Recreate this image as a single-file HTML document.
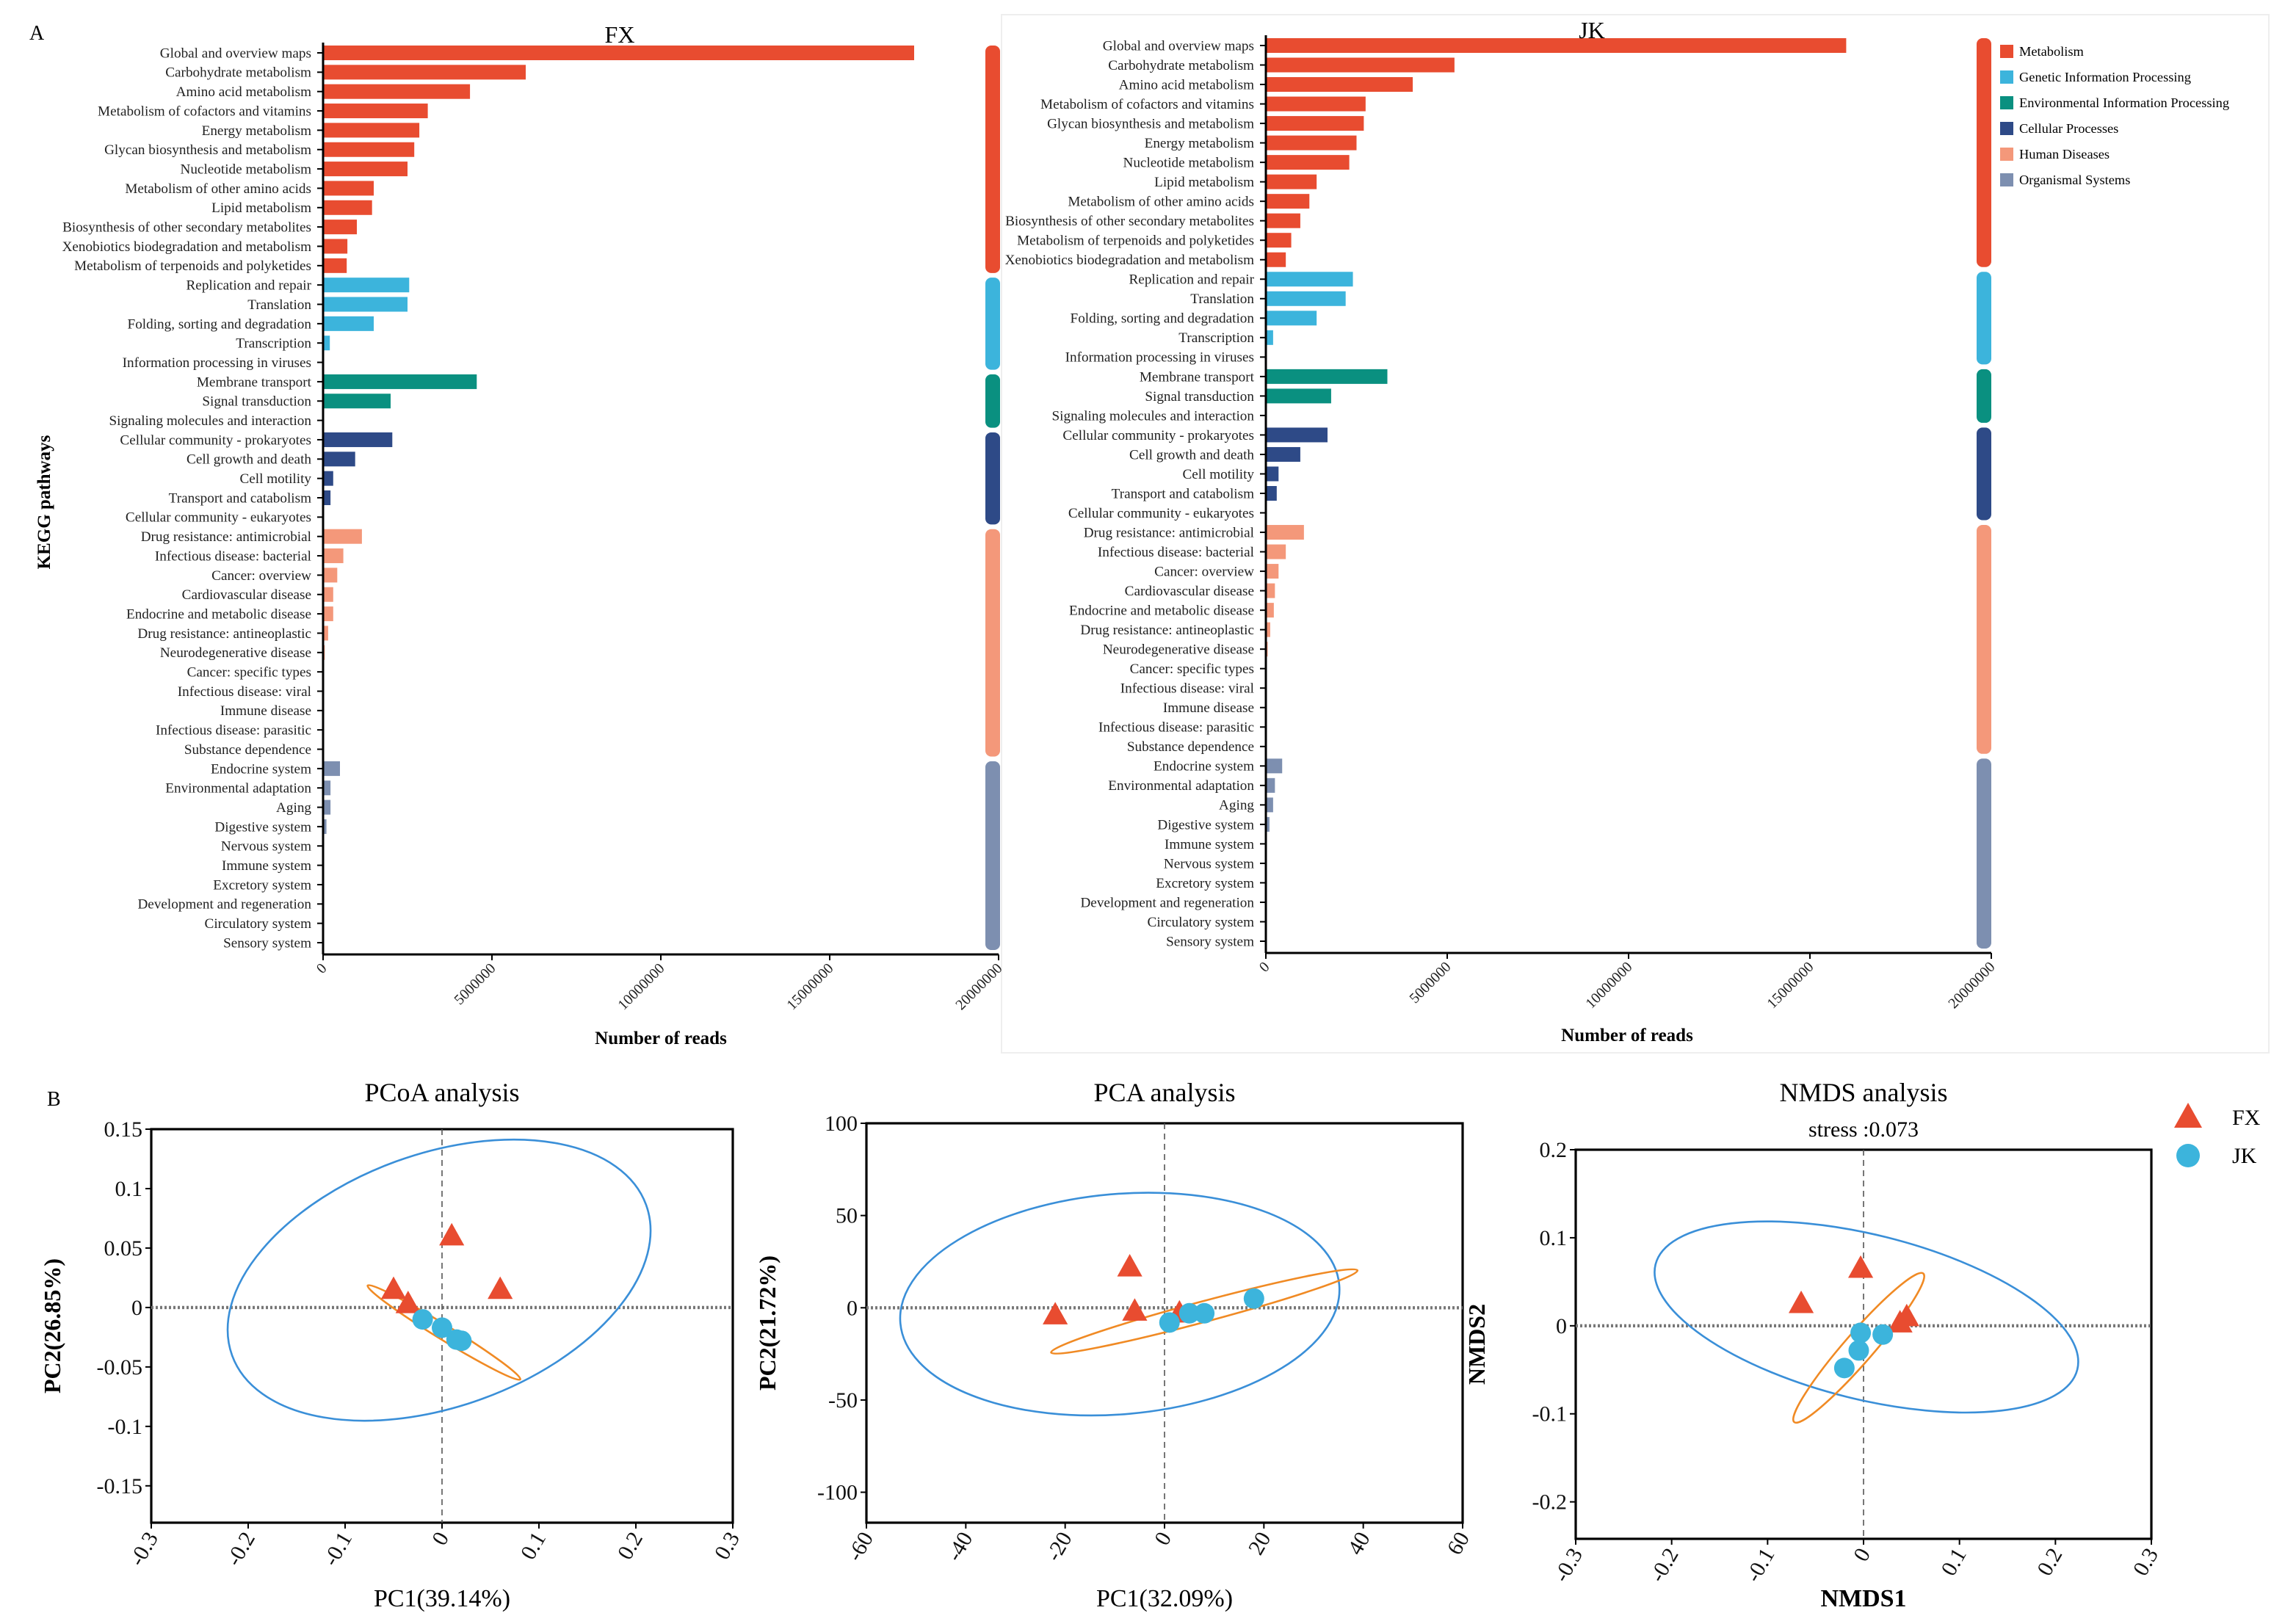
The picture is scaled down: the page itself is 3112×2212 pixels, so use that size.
<!DOCTYPE html>
<html><head><meta charset="utf-8"><style>
html,body{margin:0;padding:0;background:#fff}
svg{display:block}
text{font-family:"Liberation Serif",serif}
</style></head><body>
<svg id="fig" width="3112" height="2212" viewBox="0 0 1556 1106" xmlns="http://www.w3.org/2000/svg">
<rect x="0" y="0" width="1556" height="1106" fill="#fff"/>
<rect x="682" y="10" width="863" height="707" fill="none" stroke="#eeeeee" stroke-width="1"/>
<g id="root"></g>
</svg>
<script>
// ---------- Data: KEGG bars ----------
const fxLabels = ["Global and overview maps","Carbohydrate metabolism","Amino acid metabolism","Metabolism of cofactors and vitamins","Energy metabolism","Glycan biosynthesis and metabolism","Nucleotide metabolism","Metabolism of other amino acids","Lipid metabolism","Biosynthesis of other secondary metabolites","Xenobiotics biodegradation and metabolism","Metabolism of terpenoids and polyketides","Replication and repair","Translation","Folding, sorting and degradation","Transcription","Information processing in viruses","Membrane transport","Signal transduction","Signaling molecules and interaction","Cellular community - prokaryotes","Cell growth and death","Cell motility","Transport and catabolism","Cellular community - eukaryotes","Drug resistance: antimicrobial","Infectious disease: bacterial","Cancer: overview","Cardiovascular disease","Endocrine and metabolic disease","Drug resistance: antineoplastic","Neurodegenerative disease","Cancer: specific types","Infectious disease: viral","Immune disease","Infectious disease: parasitic","Substance dependence","Endocrine system","Environmental adaptation","Aging","Digestive system","Nervous system","Immune system","Excretory system","Development and regeneration","Circulatory system","Sensory system"];
const fxValues = [17500000,6000000,4350000,3100000,2850000,2700000,2500000,1500000,1450000,1000000,720000,700000,2550000,2500000,1500000,200000,20000,4550000,2000000,20000,2050000,950000,300000,220000,20000,1150000,600000,420000,300000,300000,150000,50000,15000,10000,10000,10000,10000,500000,220000,220000,100000,30000,10000,10000,10000,10000,10000];
const fxGroups = [0,0,0,0,0,0,0,0,0,0,0,0,1,1,1,1,1,2,2,2,3,3,3,3,3,4,4,4,4,4,4,4,4,4,4,4,4,5,5,5,5,5,5,5,5,5,5];
const jkLabels = ["Global and overview maps","Carbohydrate metabolism","Amino acid metabolism","Metabolism of cofactors and vitamins","Glycan biosynthesis and metabolism","Energy metabolism","Nucleotide metabolism","Lipid metabolism","Metabolism of other amino acids","Biosynthesis of other secondary metabolites","Metabolism of terpenoids and polyketides","Xenobiotics biodegradation and metabolism","Replication and repair","Translation","Folding, sorting and degradation","Transcription","Information processing in viruses","Membrane transport","Signal transduction","Signaling molecules and interaction","Cellular community - prokaryotes","Cell growth and death","Cell motility","Transport and catabolism","Cellular community - eukaryotes","Drug resistance: antimicrobial","Infectious disease: bacterial","Cancer: overview","Cardiovascular disease","Endocrine and metabolic disease","Drug resistance: antineoplastic","Neurodegenerative disease","Cancer: specific types","Infectious disease: viral","Immune disease","Infectious disease: parasitic","Substance dependence","Endocrine system","Environmental adaptation","Aging","Digestive system","Immune system","Nervous system","Excretory system","Development and regeneration","Circulatory system","Sensory system"];
const jkValues = [16000000,5200000,4050000,2750000,2700000,2500000,2300000,1400000,1200000,950000,700000,550000,2400000,2200000,1400000,200000,20000,3350000,1800000,20000,1700000,950000,350000,300000,20000,1050000,550000,350000,250000,220000,120000,50000,10000,10000,10000,10000,10000,450000,250000,200000,100000,30000,10000,10000,10000,10000,10000];
const jkGroups = fxGroups;
const groupNames = ["Metabolism","Genetic Information Processing","Environmental Information Processing","Cellular Processes","Human Diseases","Organismal Systems"];
const groupColors = ["#e84c30","#3cb4dc","#0a9080","#2e4a87","#f4987a","#7d8fb0"];
const barTicks = [0,5000000,10000000,15000000,20000000];

// ---------- Data: ordination ----------
const pcoaFX = [[0.01,0.06],[-0.05,0.015],[-0.035,0.003],[0.06,0.015]];
const pcoaJK = [[-0.02,-0.01],[0,-0.017],[0.015,-0.027],[0.02,-0.028]];
const pcaFX = [[-7,22],[-22,-4],[-6,-2],[3,-3]];
const pcaJK = [[1,-8],[5,-3],[8,-3],[18,5]];
const nmdsFX = [[-0.065,0.025],[-0.003,0.065],[0.045,0.01],[0.038,0.003]];
const nmdsJK = [[-0.003,-0.008],[0.02,-0.01],[-0.005,-0.028],[-0.02,-0.048]];
const pcoaXTicks = [-0.3,-0.2,-0.1,0,0.1,0.2,0.3];
const pcoaYTicks = [0.15,0.1,0.05,0,-0.05,-0.1,-0.15];
const pcaXTicks = [-60,-40,-20,0,20,40,60];
const pcaYTicks = [100,50,0,-50,-100];
const nmdsXTicks = [-0.3,-0.2,-0.1,0,0.1,0.2,0.3];
const nmdsYTicks = [0.2,0.1,0,-0.1,-0.2];

const NS="http://www.w3.org/2000/svg";
const root=document.getElementById('root');
function mk(tag,attrs,parent,txt){const e=document.createElementNS(NS,tag);for(const k in attrs)e.setAttribute(k,attrs[k]);if(txt!==undefined)e.textContent=txt;(parent||root).appendChild(e);return e;}

function barChart(o){
  const g=mk('g',{});
  
  
  const n=o.labels.length;
  const yPos=i=>o.y0+i*(o.y1-o.y0)/(n-1);
  const xPos=v=>o.x0+v/20000000*(o.x1-o.x0);
  const axB=o.y1+8;
  for(let i=0;i<n;i++){
    const y=yPos(i);
    const r=mk('rect',{x:o.x0,y:y-5,width:Math.max(0,xPos(o.values[i])-o.x0),height:10,fill:groupColors[o.groups[i]]},g);
    
    
    const t=mk('text',{x:o.x0-8,y:y+3.2,'text-anchor':'end','font-size':9.6,fill:'#222'},g,o.labels[i]);
    
    
    mk('line',{x1:o.x0-4,x2:o.x0,y1:y,y2:y,stroke:'#000','stroke-width':1},g);
  }
  mk('line',{x1:o.x0,x2:o.x0,y1:o.y0-7,y2:axB,stroke:'#000','stroke-width':1.5},g);
  mk('line',{x1:o.x0,x2:o.x1,y1:axB,y2:axB,stroke:'#000','stroke-width':1.5},g);
  barTicks.forEach(v=>{
    const x=xPos(v);
    mk('line',{x1:x,x2:x,y1:axB,y2:axB+4,stroke:'#000','stroke-width':1},g);
    const t=mk('text',{x:x+3,y:axB+10,'text-anchor':'end','font-size':10,transform:`rotate(-45 ${x+3} ${axB+10})`,fill:'#222'},g,String(v));
    
    
  });
  let start=0;
  for(let i=1;i<=n;i++){
    if(i===n||o.groups[i]!==o.groups[start]){
      const ya=yPos(start)-5, yb=yPos(i-1)+5;
      const r=mk('rect',{x:o.gx,y:ya,width:10,height:yb-ya,rx:4,fill:groupColors[o.groups[start]]},g);
      
      
      start=i;
    }
  }
}
barChart({name:'fx-bar-chart',labels:fxLabels,values:fxValues,groups:fxGroups,x0:220,x1:680,y0:36,y1:642,gx:671});
barChart({name:'jk-bar-chart',labels:jkLabels,values:jkValues,groups:jkGroups,x0:862,x1:1356,y0:31,y1:641,gx:1346});

function txt(x,y,s,attrs,name){const t=mk('text',Object.assign({x:x,y:y},attrs),root,s);return t;}
txt(20,27,'A',{'font-size':14},'panel-label-a');
txt(32,753,'B',{'font-size':14},'panel-label-b');
txt(422,29,'FX',{'font-size':16,'text-anchor':'middle'},'fx-title');
txt(1084,26,'JK',{'font-size':16,'text-anchor':'middle'},'jk-title');
txt(34,342,'KEGG pathways',{'font-size':12.5,'font-weight':'bold','text-anchor':'middle',transform:'rotate(-90 34 342)'},'y-axis-title');
txt(450,711,'Number of reads',{'font-size':12.5,'font-weight':'bold','text-anchor':'middle'},'fx-x-axis-title');
txt(1108,709,'Number of reads',{'font-size':12.5,'font-weight':'bold','text-anchor':'middle'},'jk-x-axis-title');
groupNames.forEach((nm,i)=>{
  const y=35+i*17.5;
  const r=mk('rect',{x:1362,y:y-4.5,width:9,height:9,fill:groupColors[i]});
  
  
  txt(1375,y+3,nm,{'font-size':9.2},'legend-entry');
});

// ---------- ordination plots ----------
function triPath(x,y,s){return `M${x},${y-s} L${x+s*0.95},${y+s*0.7} L${x-s*0.95},${y+s*0.7} Z`;}
function ordPlot(o){
  const g=mk('g',{});
  
  
  const X=v=>o.l+(v-o.xmin)/(o.xmax-o.xmin)*(o.r-o.l);
  const Y=v=>o.t+(o.ymax-v)/(o.ymax-o.ymin)*(o.b-o.t);
  mk('rect',{x:o.l,y:o.t,width:o.r-o.l,height:o.b-o.t,fill:'none',stroke:'#000','stroke-width':1.6},g);
  mk('line',{x1:o.l,x2:o.r,y1:Y(0),y2:Y(0),stroke:'#777','stroke-width':2.2,'stroke-dasharray':'1.5 1.5'},g);
  mk('line',{x1:X(0),x2:X(0),y1:o.t,y2:o.b,stroke:'#555','stroke-width':0.8,'stroke-dasharray':'4 3'},g);
  o.yt.forEach(v=>{const y=Y(v);mk('line',{x1:o.l-4,x2:o.l,y1:y,y2:y,stroke:'#000'},g);
    const t=mk('text',{x:o.l-6,y:y+5,'text-anchor':'end','font-size':15,fill:'#111'},g,String(v));});
  o.xt.forEach(v=>{const x=X(v);mk('line',{x1:x,x2:x,y1:o.b,y2:o.b+4,stroke:'#000'},g);
    const t=mk('text',{x:x+5,y:o.b+10,'text-anchor':'end','font-size':15,fill:'#111',transform:`rotate(-60 ${x+5} ${o.b+10})`},g,String(v));});
  const e1=mk('ellipse',{cx:0,cy:0,rx:o.be[2],ry:o.be[3],fill:'none',stroke:'#3a8fd8','stroke-width':1.3,transform:`translate(${X(o.be[0])} ${Y(o.be[1])}) rotate(${o.be[4]})`},g);
  
  const e2=mk('ellipse',{cx:0,cy:0,rx:o.oe[2],ry:o.oe[3],fill:'none',stroke:'#f08a24','stroke-width':1.3,transform:`translate(${X(o.oe[0])} ${Y(o.oe[1])}) rotate(${o.oe[4]})`},g);
  
  o.fx.forEach(p=>{const m=mk('path',{d:triPath(X(p[0]),Y(p[1]),9),fill:'#e84c30'},g);});
  o.jk.forEach(p=>{const m=mk('circle',{cx:X(p[0]),cy:Y(p[1]),r:7,fill:'#3cb4dc'},g);});
  txt((o.l+o.r)/2,o.titleY,o.title,{'font-size':18,'text-anchor':'middle'},'plot-title');
  txt((o.l+o.r)/2,1094,o.xl,{'font-size':17,'text-anchor':'middle','font-family':o.bold?'Liberation Sans':'Liberation Serif','font-weight':o.bold?'bold':'normal'},'x-axis-title');
  const yx=o.l-62, yy=(o.t+o.b)/2;
  txt(yx,yy,o.yl,{'font-size':16,'text-anchor':'middle','font-weight':'bold','font-family':'Liberation Sans',transform:`rotate(-90 ${yx} ${yy})`},'y-axis-title');
}
ordPlot({name:'pcoa-plot',l:103,r:499,t:769,b:1037,xmin:-0.3,xmax:0.3,ymin:-0.181,ymax:0.15,xt:pcoaXTicks,yt:pcoaYTicks,fx:pcoaFX,jk:pcoaJK,
  be:[-0.003,0.023,150,86,-20],oe:[0.002,-0.021,61,5,31.6],title:'PCoA analysis',titleY:750,xl:'PC1(39.14%)',yl:'PC2(26.85%)'});
ordPlot({name:'pca-plot',l:590,r:996,t:765,b:1037,xmin:-60,xmax:60,ymin:-116.5,ymax:100,xt:pcaXTicks,yt:pcaYTicks,fx:pcaFX,jk:pcaJK,
  be:[-9,2,150,75,-5],oe:[8,-2,108,7,-15],title:'PCA analysis',titleY:750,xl:'PC1(32.09%)',yl:'PC2(21.72%)'});
ordPlot({name:'nmds-plot',l:1073,r:1465,t:783,b:1048,xmin:-0.3,xmax:0.3,ymin:-0.242,ymax:0.2,xt:nmdsXTicks,yt:nmdsYTicks,fx:nmdsFX,jk:nmdsJK,
  be:[0.003,0.01,148,56,14],oe:[-0.005,-0.025,67,10,-49],title:'NMDS analysis',titleY:750,xl:'NMDS1',yl:'NMDS2',bold:true});
txt(1269,774,'stress :0.073',{'font-size':15,'text-anchor':'middle'},'stress-label');
const lt=mk('path',{d:triPath(1490,761,10),fill:'#e84c30'});
txt(1520,766,'FX',{'font-size':15},'legend-fx');
const lc=mk('circle',{cx:1490,cy:787,r:8,fill:'#3cb4dc'});
txt(1520,792,'JK',{'font-size':15},'legend-jk');
</script>
</body></html>
